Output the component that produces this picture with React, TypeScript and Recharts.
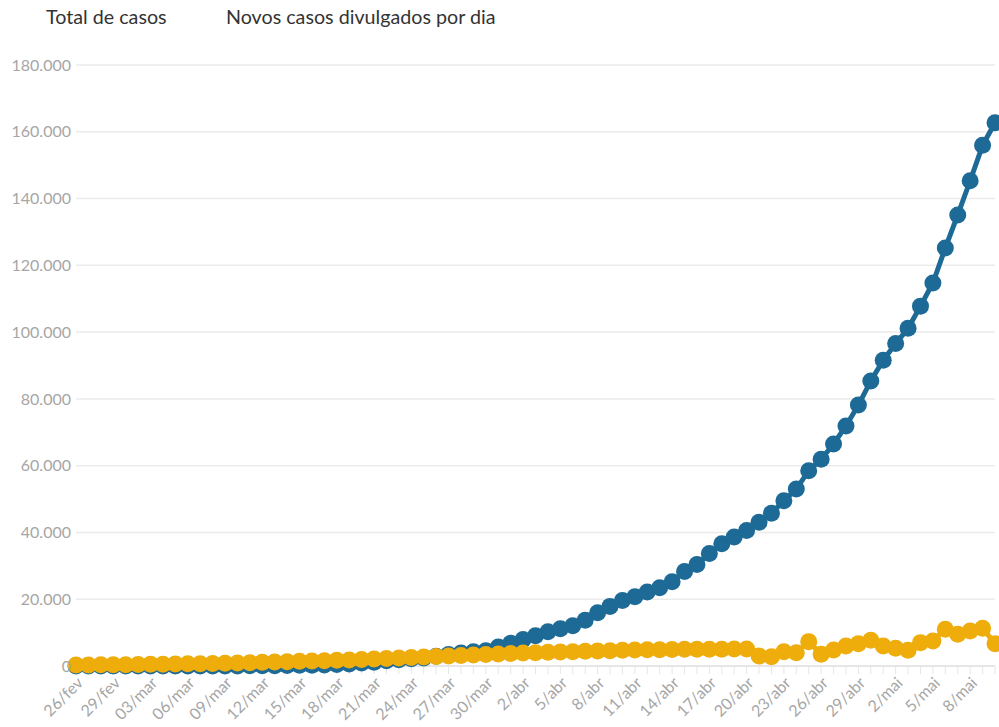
import React from "react";
import { LineChart, Line, XAxis, YAxis, CartesianGrid } from "recharts";

// dias (26/fev a 10/mai)
const dias = [
  "26/fev", "27/fev", "28/fev", "29/fev",
  "01/mar", "02/mar", "03/mar", "04/mar", "05/mar", "06/mar", "07/mar", "08/mar", "09/mar", "10/mar",
  "11/mar", "12/mar", "13/mar", "14/mar", "15/mar", "16/mar", "17/mar", "18/mar", "19/mar", "20/mar",
  "21/mar", "22/mar", "23/mar", "24/mar", "25/mar", "26/mar", "27/mar", "28/mar", "29/mar", "30/mar", "31/mar",
  "1/abr", "2/abr", "3/abr", "4/abr", "5/abr", "6/abr", "7/abr", "8/abr", "9/abr", "10/abr",
  "11/abr", "12/abr", "13/abr", "14/abr", "15/abr", "16/abr", "17/abr", "18/abr", "19/abr", "20/abr",
  "21/abr", "22/abr", "23/abr", "24/abr", "25/abr", "26/abr", "27/abr", "28/abr", "29/abr", "30/abr",
  "1/mai", "2/mai", "3/mai", "4/mai", "5/mai", "6/mai", "7/mai", "8/mai", "9/mai", "10/mai",
];

const totalCasos = [
  1, 1, 1, 2,
  2, 2, 2, 3, 8, 13, 19, 25, 25, 34,
  52, 77, 98, 121, 200, 234, 291, 428, 621, 904,
  1128, 1546, 1891, 2201, 2433, 2915, 3417, 3904, 4256, 4579, 5717,
  6836, 7910, 9056, 10278, 11130, 12056, 13717, 15927, 17857, 19638,
  20727, 22169, 23430, 25262, 28320, 30425, 33682, 36599, 38654, 40581,
  43079, 45757, 49492, 52995, 58509, 61888, 66501, 71886, 78162, 85380,
  91589, 96559, 101147, 107780, 114715, 125218, 135106, 145328, 155939, 162699,
];

const novosCasos = [
  300, 300, 350, 400,
  400, 450, 500, 550, 600, 650, 700, 750, 800, 900,
  1000, 1100, 1200, 1300, 1400, 1500, 1600, 1700, 1800, 1950,
  2100, 2250, 2400, 2550, 2700, 2850, 3000, 3150, 3300, 3450, 3600,
  3750, 3900, 4000, 4100, 4200, 4300, 4400, 4500, 4600, 4700,
  4800, 4850, 4900, 4950, 5000, 5000, 5000, 5000, 5100, 5100,
  3000, 2800, 4300, 4000, 7300, 3500, 4800, 6000, 6700, 7700,
  6000, 5300, 4700, 7000, 7500, 11000, 9500, 10500, 11300, 6700,
];

const yTicks = [0, 20000, 40000, 60000, 80000, 100000, 120000, 140000, 160000, 180000];

const dados = dias.map((d, i) => ({ dia: d, total: totalCasos[i], novos: novosCasos[i] }));

const fmt = (v: number) => String(v).replace(/\B(?=(\d{3})+(?!\d))/g, ".");

const AZUL = "#1e6a96";
const AMARELO = "#eead0b";
const FONTE = "Lato, 'Source Sans Pro', sans-serif";

const XTick = (props: any) => {
  const { x, y, payload, index } = props;
  if (index % 3 !== 0) return null;
  return (
    <g transform={`translate(${x + 4},${y + 4})`}>
      <text
        transform="rotate(-45)"
        textAnchor="end"
        dy="0.35em"
        fill="#a6a6a6"
        fontSize={16}
        fontFamily={FONTE}
      >
        {payload.value}
      </text>
    </g>
  );
};

const legenda: React.CSSProperties = {
  position: "absolute",
  top: 5,
  fontFamily: FONTE,
  fontSize: 19.7,
  color: "#333",
  whiteSpace: "nowrap",
};

export default function App() {
  return (
    <div style={{ position: "absolute", left: 0, top: 0, width: 999, height: 727, background: "#fff" }}>
      <div style={{ ...legenda, left: 46 }}>Total de casos</div>
      <div style={{ ...legenda, left: 226 }}>Novos casos divulgados por dia</div>
      <LineChart
        width={999}
        height={727}
        data={dados}
        margin={{ top: 65, right: 4, bottom: 31, left: 0 }}
      >
        <CartesianGrid vertical={false} stroke="#ebebeb" strokeWidth={1.5} />
        <XAxis
          dataKey="dia"
          interval={0}
          tick={<XTick />}
          tickSize={8}
          tickMargin={2}
          tickLine={{ stroke: "#e6e6e6" }}
          axisLine={{ stroke: "#e6e6e6", strokeWidth: 2 }}
          padding={{ left: 0, right: 0 }}
        />
        <YAxis
          width={76}
          domain={[0, 180000]}
          ticks={yTicks}
          tickFormatter={fmt}
          axisLine={false}
          tickLine={false}
          tickSize={0}
          tickMargin={5}
          tick={{ fill: "#a6a6a6", fontSize: 16, fontFamily: FONTE }}
        />
        <Line
          dataKey="total"
          stroke={AZUL}
          strokeWidth={5}
          dot={{ r: 8.5, fill: AZUL, stroke: "none" }}
          isAnimationActive={false}
        />
        <Line
          dataKey="novos"
          stroke={AMARELO}
          strokeWidth={5}
          dot={{ r: 8.5, fill: AMARELO, stroke: "none" }}
          isAnimationActive={false}
        />
      </LineChart>
    </div>
  );
}
